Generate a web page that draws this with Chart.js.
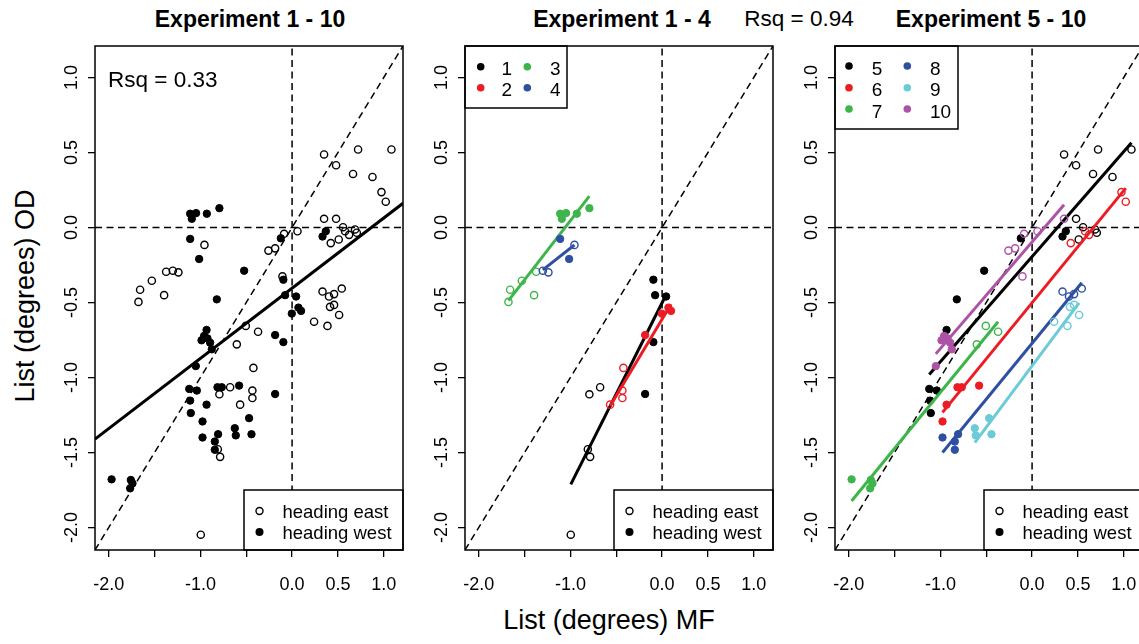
<!DOCTYPE html>
<html>
<head>
<meta charset="utf-8">
<script src="https://cdn.jsdelivr.net/npm/chart.js@4.4.1/dist/chart.umd.min.js"></script>
<style>
  html, body { margin: 0; padding: 0; background: #fff; }
  body { width: 1139px; height: 644px; overflow: hidden; position: relative;
         font-family: "Liberation Sans", Arial, sans-serif; color: #000; }
  .panel { position: absolute; top: 0; }
  .txt { position: absolute; line-height: 1; white-space: nowrap; transform: translate(-50%, -50%); }
</style>
</head>
<body>
<div class="txt" style="left:250px;top:19px;font-size:23px;font-weight:bold;">Experiment 1 - 10</div>
<div class="txt" style="left:622px;top:19px;font-size:23px;font-weight:bold;">Experiment 1 - 4</div>
<div class="txt" style="left:799px;top:19px;font-size:22.5px;">Rsq = 0.94</div>
<div class="txt" style="left:991px;top:19px;font-size:23px;font-weight:bold;">Experiment 5 - 10</div>
<div class="txt" style="left:609px;top:620px;font-size:27px;">List (degrees) MF</div>
<div class="txt" style="left:25px;top:296px;font-size:27px;transform:translate(-50%,-50%) rotate(-90deg);">List (degrees) OD</div>

<div class="panel" id="p1" style="left:35px;"><canvas id="c1" width="380" height="644"></canvas></div>
<div class="panel" id="p2" style="left:405px;"><canvas id="c2" width="380" height="644"></canvas></div>
<div class="panel" id="p3" style="left:775px;"><canvas id="c3" width="380" height="644"></canvas></div>

<script>
// Axis limits and ticks (same for x and y in every panel)
const axisMin = -2.15;
const axisMax = 1.21;
const tickValues = [-2, -1.5, -1, -0.5, 0, 0.5, 1];
const xTickLabels = ['-2.0', '', '-1.0', '', '0.0', '0.5', '1.0'];
const yTickLabels = ['-2.0', '-1.5', '-1.0', '-0.5', '0.0', '0.5', '1.0'];

// List (degrees): [MF, OD] per run, split by heading
const east1 = [[-0.676,-1.065],[-0.793,-1.112],[-0.810,-1.478],[-0.785,-1.529],[-0.996,-2.048]];
const west1 = [[-0.095,-0.348],[-0.076,-0.451],[0.044,-0.460],[-0.095,-0.764],[-0.185,-1.110]];
const east2 = [[-0.422,-0.936],[-0.433,-1.087],[-0.433,-1.137],[-0.567,-1.181]];
const west2 = [[-0.185,-0.717],[-0.003,-0.574],[0.069,-0.534],[0.098,-0.556]];
const east3 = [[-1.676,-0.496],[-1.658,-0.415],[-1.530,-0.355],[-1.374,-0.295],[-1.396,-0.451]];
const west3 = [[-1.112,0.092],[-1.047,0.096],[-1.094,0.058],[-0.930,0.092],[-0.793,0.129]];
const east4 = [[-0.956,-0.116],[-1.301,-0.288],[-1.240,-0.299]];
const west4 = [[-1.112,-0.076],[-1.014,-0.210]];
const east5 = [[0.349,0.487],[0.480,0.415],[0.720,0.520],[0.665,0.357],[0.877,0.337],[1.084,0.520],
               [0.480,0.058],[0.556,0.002],[0.509,-0.080],[0.706,-0.035],[0.687,-0.013]];
const west5 = [[-0.123,-0.072],[-0.523,-0.288],[-0.821,-0.479],[0.368,-0.025],[0.332,-0.060],
               [-0.933,-0.683],[-1.122,-1.076],[-1.039,-1.087],[-1.112,-1.154],[-1.105,-1.237]];
const east6 = [[0.975,0.236],[1.022,0.172],[0.422,-0.104],[0.578,-0.025],[0.622,-0.049]];
const west6 = [[-0.814,-1.065],[-0.767,-1.065],[-0.578,-1.054],[-0.933,-1.181],[-0.977,-1.293]];
const east7 = [[-0.505,-0.656],[-0.371,-0.695],[-0.603,-0.779]];
const west7 = [[-1.969,-1.679],[-1.759,-1.683],[-1.741,-1.706],[-1.767,-1.739]];
const east8 = [[0.332,-0.427],[0.403,-0.460],[0.458,-0.444],[0.542,-0.407]];
const west8 = [[-0.977,-1.400],[-0.807,-1.378],[-0.843,-1.427],[-0.843,-1.482]];
const east9 = [[0.240,-0.628],[0.386,-0.656],[0.414,-0.529],[0.458,-0.516],[0.513,-0.583]];
const west9 = [[-0.625,-1.338],[-0.614,-1.386],[-0.469,-1.271],[-0.443,-1.378]];
const east10 = [[-0.258,-0.154],[-0.185,-0.139],[-0.087,-0.042],[0.059,-0.025],[0.349,0.058],[-0.105,-0.326]];
const west10 = [[-0.960,-0.723],[-0.923,-0.739],[-0.988,-0.752],[-0.894,-0.768],[-0.876,-0.812],[-1.050,-0.924]];

// Per-run fitted lines (intercept, slope) and the pooled fit
const runNames = ['1','2','3','4','5','6','7','8','9','10'];
const runColors = ['#000000','#ed1c24','#3db54a','#2e4fa2','#000000','#ed1c24','#3db54a','#2e4fa2','#6ccbd9','#ae52a6'];
const fitIntercept = [-0.502,-0.612,0.835,0.341,-0.194,-0.502,-0.351,-0.772,-0.922,-0.096];
const fitSlope = [1.215,1.019,0.789,0.479,0.700,0.748,0.748,0.745,0.819,0.711];
const pooledFit = [-0.405, 0.468];

const eastRuns = [east1,east2,east3,east4,east5,east6,east7,east8,east9,east10];
const westRuns = [west1,west2,west3,west4,west5,west6,west7,west8,west9,west10];

const FONT = '"Liberation Sans", Arial, sans-serif';
Chart.defaults.font.family = FONT;
Chart.defaults.color = '#000';

const toPts = arr => arr.map(p => ({x: p[0], y: p[1]}));

function pointSet(arr, color, filled) {
  return {
    data: toPts(arr), showLine: false,
    pointRadius: filled ? 3.7 : 3.6,
    pointBorderWidth: filled ? 1 : 1.4,
    pointBorderColor: color,
    pointBackgroundColor: filled ? color : 'rgba(0,0,0,0)',
    pointStyle: 'circle'
  };
}
function lineSet(pts, color, width, dash) {
  return {
    data: pts, showLine: true, pointRadius: 0, borderColor: color,
    borderWidth: width, borderDash: dash || [], fill: false, tension: 0,
    borderCapStyle: 'butt'
  };
}
function fitLine(i) {
  const xs = eastRuns[i].concat(westRuns[i]).map(p => p[0]);
  const lo = Math.min(...xs), hi = Math.max(...xs);
  return [{x: lo, y: fitIntercept[i] + fitSlope[i]*lo}, {x: hi, y: fitIntercept[i] + fitSlope[i]*hi}];
}
function referenceLines() {
  const dash = [7, 4.5];
  return [
    lineSet([{x: axisMin, y: 0}, {x: axisMax, y: 0}], '#000', 1.5, dash),
    lineSet([{x: 0, y: axisMin}, {x: 0, y: axisMax}], '#000', 1.5, dash),
    lineSet([{x: axisMin, y: axisMin}, {x: axisMax, y: axisMax}], '#000', 1.5, dash)
  ];
}

// Frame, text and legend boxes inside each plot
const framePlugin = {
  id: 'frame',
  afterDatasetsDraw(chart, args, opts) {
    const {ctx, chartArea: a} = chart;
    ctx.save();
    ctx.textBaseline = 'middle';
    ctx.textAlign = 'left';
    ctx.fillStyle = '#000';
    if (opts.note) {
      ctx.font = '22.5px ' + FONT;
      ctx.fillText(opts.note, a.left + 13, a.top + 35);
    }
    // heading legend (bottom right)
    {
      const x0 = a.right - 159, y0 = a.bottom - 60;
      ctx.fillStyle = '#fff';
      ctx.fillRect(x0, y0, a.right - x0, a.bottom - y0);
      ctx.lineWidth = 1.5; ctx.strokeStyle = '#000';
      ctx.strokeRect(x0, y0, a.right - x0, a.bottom - y0);
      ctx.beginPath(); ctx.arc(x0 + 15.5, y0 + 21, 3.5, 0, Math.PI*2);
      ctx.lineWidth = 1.4; ctx.stroke();
      ctx.beginPath(); ctx.arc(x0 + 15.5, y0 + 42, 4, 0, Math.PI*2);
      ctx.fillStyle = '#000'; ctx.fill();
      ctx.font = '18.5px ' + FONT;
      ctx.fillText('heading east', x0 + 38.5, y0 + 22.5);
      ctx.fillText('heading west', x0 + 38.5, y0 + 43.5);
    }
    // run legend (top left)
    if (opts.runs) {
      const L = opts.runs;
      ctx.fillStyle = '#fff';
      ctx.fillRect(a.left, a.top, L.w, L.h);
      ctx.lineWidth = 1.5; ctx.strokeStyle = '#000';
      ctx.strokeRect(a.left, a.top, L.w, L.h);
      ctx.font = '19px ' + FONT;
      L.items.forEach((idx, k) => {
        const col = Math.floor(k / L.rows), row = k % L.rows;
        const dx = a.left + L.dotX[col], dy = a.top + L.dotY[row];
        ctx.beginPath(); ctx.arc(dx, dy, 3.8, 0, Math.PI*2);
        ctx.fillStyle = runColors[idx]; ctx.fill();
        ctx.fillStyle = '#000';
        ctx.fillText(runNames[idx], a.left + L.textX[col], dy + 3.5);
      });
    }
    ctx.lineWidth = 1.5; ctx.strokeStyle = '#000';
    ctx.strokeRect(a.left, a.top, a.right - a.left, a.bottom - a.top);
    ctx.restore();
  }
};

function scaleOpts(axis) {
  const isX = axis === 'x';
  return {
    type: 'linear', min: axisMin, max: axisMax,
    afterBuildTicks: s => { s.ticks = tickValues.map(v => ({value: v})); },
    afterFit: s => { if (isX) s.height = 94; else s.width = 60; },
    grid: { display: true, drawOnChartArea: false, drawTicks: true, tickLength: 7,
            color: '#000', lineWidth: 1.3 },
    border: { display: false },
    ticks: {
      autoSkip: false, color: '#000', font: { size: 18 },
      padding: isX ? 17 : 0,
      minRotation: isX ? 0 : 90, maxRotation: isX ? 0 : 90,
      crossAlign: isX ? 'near' : 'center',
      callback: (v, i) => (isX ? xTickLabels : yTickLabels)[i]
    }
  };
}

function makeChart(id, datasets, frameOpts) {
  const n = datasets.length;
  datasets.forEach((d, i) => { d.order = n - i; });
  return new Chart(document.getElementById(id), {
    type: 'scatter',
    data: { datasets },
    options: {
      responsive: false, animation: false, events: [],
      devicePixelRatio: 1,
      layout: { padding: { top: 46, right: 12, bottom: 0, left: 0 } },
      plugins: { legend: { display: false }, tooltip: { enabled: false }, frame: frameOpts },
      scales: { x: scaleOpts('x'), y: scaleOpts('y') }
    },
    plugins: [framePlugin]
  });
}

// Panel 1: all runs pooled
{
  const ds = referenceLines();
  eastRuns.forEach(r => ds.push(pointSet(r, '#000', false)));
  westRuns.forEach(r => ds.push(pointSet(r, '#000', true)));
  ds.push(lineSet([{x: axisMin, y: pooledFit[0] + pooledFit[1]*axisMin},
                   {x: axisMax, y: pooledFit[0] + pooledFit[1]*axisMax}], '#000', 3));
  makeChart('c1', ds, { note: 'Rsq = 0.33' });
}

function runPanel(id, runIdx, legend) {
  const ds = referenceLines();
  runIdx.forEach(i => {
    ds.push(pointSet(eastRuns[i], runColors[i], false));
    ds.push(pointSet(westRuns[i], runColors[i], true));
    ds.push(lineSet(fitLine(i), runColors[i], 3));
  });
  makeChart(id, ds, { runs: legend });
}

// Panel 2: runs 1-4
runPanel('c2', [0,1,2,3], { w: 102, h: 62, rows: 2, items: [0,1,2,3],
  dotX: [15.7, 62.3], dotY: [20.7, 41.7], textX: [36.5, 85] });
// Panel 3: runs 5-10
runPanel('c3', [4,5,6,7,8,9], { w: 123, h: 83, rows: 3, items: [4,5,6,7,8,9],
  dotX: [14, 72.3], dotY: [20, 41.7, 63], textX: [36.7, 95] });
</script>
</body>
</html>
